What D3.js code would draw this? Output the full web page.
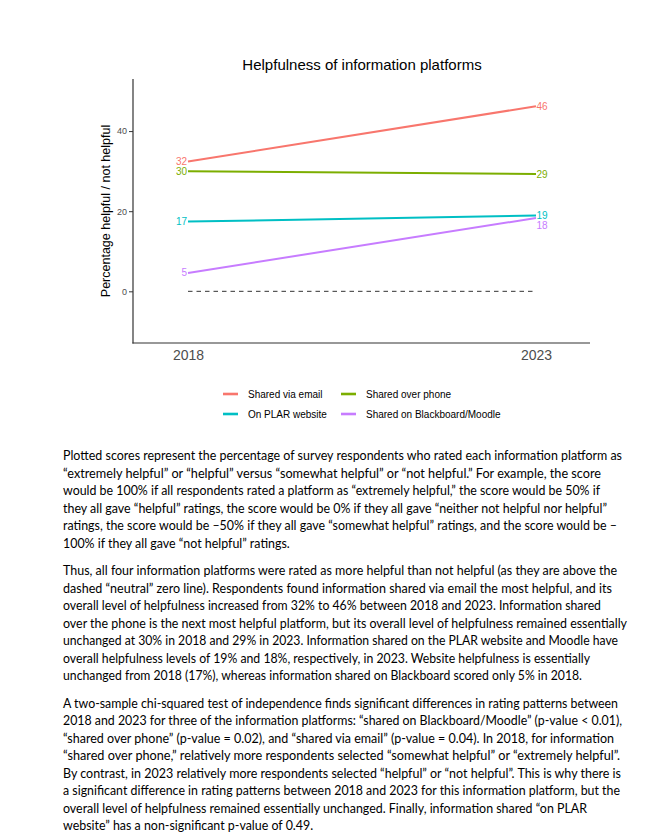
<!DOCTYPE html>
<html>
<head>
<meta charset="utf-8">
<script src="https://cdn.jsdelivr.net/npm/d3@7"></script>
<style>
  html, body { margin: 0; padding: 0; background: #fff; }
  svg { display: block; }
</style>
</head>
<body>
<svg id="page" width="663" height="835"></svg>
<script>
// ---------- data ----------
const years = [2018, 2023];
const seriesNames = ["Shared via email", "Shared over phone", "On PLAR website", "Shared on Blackboard/Moodle"];
const seriesColors = ["#F8766D", "#7CAE00", "#00BFC4", "#C77CFF"];
const emailValues = [32.4, 46.2];
const phoneValues = [30.0, 29.3];
const websiteValues = [17.4, 18.9];
const blackboardValues = [4.6, 18.3];
const yTicks = [0, 20, 40];
const chartTitle = "Helpfulness of information platforms";
const yTitle = "Percentage helpful / not helpful";

const paragraphs = [
  ["Plotted scores represent the percentage of survey respondents who rated each information platform as",
   "“extremely helpful” or “helpful” versus “somewhat helpful” or “not helpful.” For example, the score",
   "would be 100% if all respondents rated a platform as “extremely helpful,” the score would be 50% if",
   "they all gave “helpful” ratings, the score would be 0% if they all gave “neither not helpful nor helpful”",
   "ratings, the score would be –50% if they all gave “somewhat helpful” ratings, and the score would be –",
   "100% if they all gave “not helpful” ratings."],
  ["Thus, all four information platforms were rated as more helpful than not helpful (as they are above the",
   "dashed “neutral” zero line). Respondents found information shared via email the most helpful, and its",
   "overall level of helpfulness increased from 32% to 46% between 2018 and 2023. Information shared",
   "over the phone is the next most helpful platform, but its overall level of helpfulness remained essentially",
   "unchanged at 30% in 2018 and 29% in 2023. Information shared on the PLAR website and Moodle have",
   "overall helpfulness levels of 19% and 18%, respectively, in 2023. Website helpfulness is essentially",
   "unchanged from 2018 (17%), whereas information shared on Blackboard scored only 5% in 2018."],
  ["A two-sample chi-squared test of independence finds significant differences in rating patterns between",
   "2018 and 2023 for three of the information platforms: “shared on Blackboard/Moodle” (p-value < 0.01),",
   "“shared over phone” (p-value = 0.02), and “shared via email” (p-value = 0.04). In 2018, for information",
   "“shared over phone,” relatively more respondents selected “somewhat helpful” or “extremely helpful”.",
   "By contrast, in 2023 relatively more respondents selected “helpful” or “not helpful”. This is why there is",
   "a significant difference in rating patterns between 2018 and 2023 for this information platform, but the",
   "overall level of helpfulness remained essentially unchanged. Finally, information shared “on PLAR",
   "website” has a non-significant p-value of 0.49."]
];
// right edges of each line (null = last line, natural width)
const lineRightEdges = [
  [622, 601, 600, 607, 617, null],
  [617, 612, 601, 627, 618, 590, 582],
  [618, 622, 614, 620, 621, 620, 587, null]
];

const series = seriesNames.map((name, i) => ({
  name, color: seriesColors[i],
  values: [emailValues, phoneValues, websiteValues, blackboardValues][i]
}));

// ---------- layout ----------
const svg = d3.select("#page");
svg.append("rect").attr("width", 663).attr("height", 835).attr("fill", "#fff");

const plot = { left: 133, right: 590, top: 79, bottom: 343 };
const x = d3.scaleLinear().domain([2018, 2023]).range([188, 536]);
const y = d3.scaleLinear().domain([-12.9, 53]).range([plot.bottom, plot.top]);
const chartFont = "'Liberation Sans', Arial, Helvetica, sans-serif";

// title
svg.append("text").attr("x", 362).attr("y", 70).attr("text-anchor", "middle")
  .attr("font-family", chartFont).attr("font-size", 15).attr("fill", "#000")
  .text(chartTitle);

// y axis
const yAxis = d3.axisLeft(y).tickValues(yTicks).tickSize(4).tickPadding(2);
const yg = svg.append("g").attr("transform", `translate(${plot.left},0)`).call(yAxis);
yg.select(".domain").remove();
yg.selectAll(".tick line").attr("stroke", "#333").attr("stroke-width", 1);
yg.selectAll(".tick text").attr("font-family", chartFont).attr("font-size", 9).attr("fill", "#4d4d4d");
svg.append("line").attr("x1", plot.left).attr("x2", plot.left)
  .attr("y1", plot.top).attr("y2", plot.bottom + 0.6)
  .attr("stroke", "#333").attr("stroke-width", 1.2);

// x axis
const xAxis = d3.axisBottom(x).tickValues(years).tickFormat(d3.format("d")).tickSize(0).tickPadding(7);
const xg = svg.append("g").attr("transform", `translate(0,${plot.bottom})`).call(xAxis);
xg.select(".domain").remove();
xg.selectAll(".tick text").attr("font-family", chartFont).attr("font-size", 14).attr("fill", "#4d4d4d");
svg.append("line").attr("x1", plot.left - 0.6).attr("x2", plot.right)
  .attr("y1", plot.bottom).attr("y2", plot.bottom)
  .attr("stroke", "#333").attr("stroke-width", 1.2);

// y title
svg.append("text").attr("transform", `translate(110,${(plot.top + plot.bottom) / 2}) rotate(-90)`)
  .attr("text-anchor", "middle").attr("font-family", chartFont).attr("font-size", 12.5).attr("fill", "#000")
  .text(yTitle);

// zero dashed line
svg.append("line").attr("x1", x(2018)).attr("x2", x(2023)).attr("y1", y(0)).attr("y2", y(0))
  .attr("stroke", "#333").attr("stroke-width", 1).attr("stroke-dasharray", "4.5,4");

// lines
const line = d3.line().x((d, i) => x(years[i])).y(d => y(d));
svg.append("g").selectAll("path").data(series).join("path")
  .attr("d", d => line(d.values)).attr("fill", "none")
  .attr("stroke", d => d.color).attr("stroke-width", 2);

// value labels with simple repel
const fmt = d3.format(".0f");
function placeLabels(idx, anchor, dx) {
  const labs = series.map(s => ({ s, v: s.values[idx], y: y(s.values[idx]) }))
    .sort((a, b) => a.y - b.y);
  for (let i = 1; i < labs.length; i++) {
    if (labs[i].y - labs[i - 1].y < 10) labs[i].y = labs[i - 1].y + 10;
  }
  svg.append("g").selectAll("text").data(labs).join("text")
    .attr("x", x(years[idx]) + dx).attr("y", d => d.y + 3.6)
    .attr("text-anchor", anchor).attr("font-family", chartFont).attr("font-size", 10)
    .attr("fill", d => d.s.color).text(d => fmt(d.v));
}
placeLabels(0, "end", -1);
placeLabels(1, "start", 0.5);

// legend
const legendCols = [223, 341];
const legendRows = [394, 414];
const lg = svg.append("g");
series.forEach((s, i) => {
  const cx = legendCols[i % 2], cy = legendRows[Math.floor(i / 2)];
  lg.append("line").attr("x1", cx).attr("x2", cx + 15).attr("y1", cy).attr("y2", cy)
    .attr("stroke", s.color).attr("stroke-width", 2.6);
  lg.append("text").attr("x", cx + 25).attr("y", cy + 3.6)
    .attr("font-family", chartFont).attr("font-size", 10).attr("fill", "#000").text(s.name);
});

// paragraphs
const paraStarts = [456, 571, 703.5];
const lineGap = 17.45;
const textFont = "Lato, 'Open Sans', sans-serif";
const tg = svg.append("g");
const allLines = [];
paragraphs.forEach((p, pi) => {
  p.forEach((ln, li) => {
    const t = tg.append("text").attr("x", 63).attr("y", paraStarts[pi] + li * lineGap + 4.3)
      .attr("font-family", textFont).attr("font-size", 13).attr("fill", "#000")
      .attr("xml:space", "preserve").text(ln);
    allLines.push({ t, target: lineRightEdges[pi][li] });
  });
});
let ratioSum = 0, n = 0;
allLines.forEach(o => {
  o.natural = o.t.node().getComputedTextLength();
  if (o.target) { ratioSum += (o.target - 63) / o.natural; n++; }
});
const avgRatio = ratioSum / n;
allLines.forEach(o => {
  const w = o.target ? (o.target - 63) : o.natural * avgRatio;
  o.t.attr("textLength", w).attr("lengthAdjust", "spacingAndGlyphs");
});
</script>
</body>
</html>
